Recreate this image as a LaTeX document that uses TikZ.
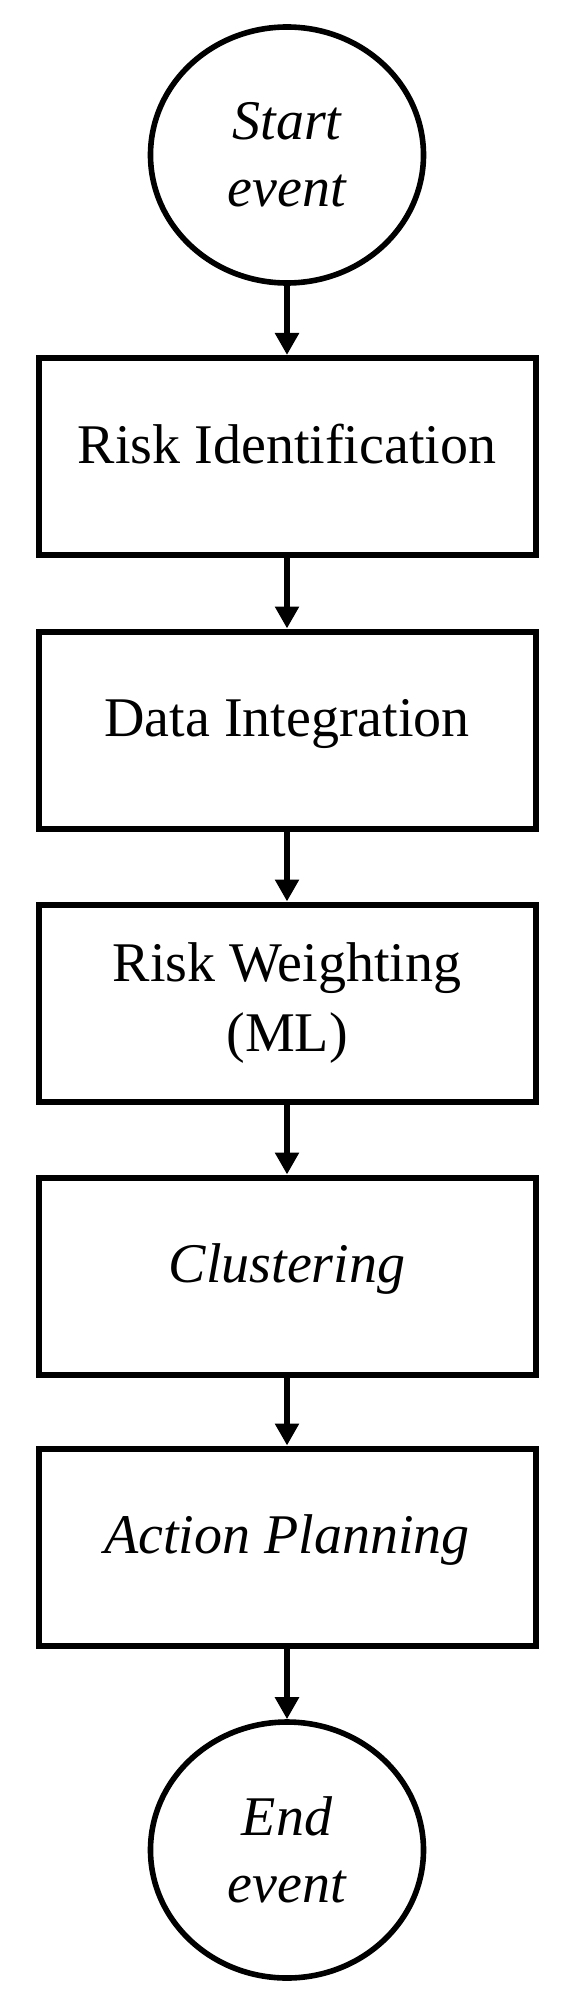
\documentclass[tikz,border=0pt]{standalone}
\usepackage{fontspec}
\setmainfont{Liberation Serif}
\usetikzlibrary{arrows.meta,shapes.geometric}
\begin{document}
\begin{tikzpicture}[x=0.5pt,y=-0.5pt,
  stepbox/.style={draw=black,line width=3pt,rectangle,minimum width=248.5pt,minimum height=98.5pt,inner sep=0pt,
    font=\fontsize{28}{35}\selectfont,align=center},
  onebox/.style={stepbox,text height=0.683em,text depth=0pt},
  eventnode/.style={draw=black,line width=2.8pt,ellipse,minimum width=136.5pt,minimum height=128pt,inner sep=0pt,
    font=\fontsize{28}{33.6}\selectfont\itshape,align=center},
  flow/.style={line width=3.1pt,-{Triangle[width=11.5pt,length=11pt]}}]
\useasboundingbox (0,0) rectangle (573,2000);
\fill[white] (0,0) rectangle (573,2000);
\node[eventnode] (start) at (287,155) {Start\\event};
\node[onebox] (ri) at (287,456.5) {Risk Identification};
\node[onebox] (di) at (287,730) {Data Integration};
\node[stepbox] (rw) at (287,1003) {Risk Weighting\\(ML)};
\node[onebox] (cl) at (287,1276) {\textit{Clustering}};
\node[onebox] (ap) at (287,1547) {\textit{Action Planning}};
\node[eventnode] (end) at (287,1850) {End\\event};
\draw[flow] (start) -- (ri);
\draw[flow] (ri) -- (di);
\draw[flow] (di) -- (rw);
\draw[flow] (rw) -- (cl);
\draw[flow] (cl) -- (ap);
\draw[flow] (ap) -- (end);
\end{tikzpicture}
\end{document}
